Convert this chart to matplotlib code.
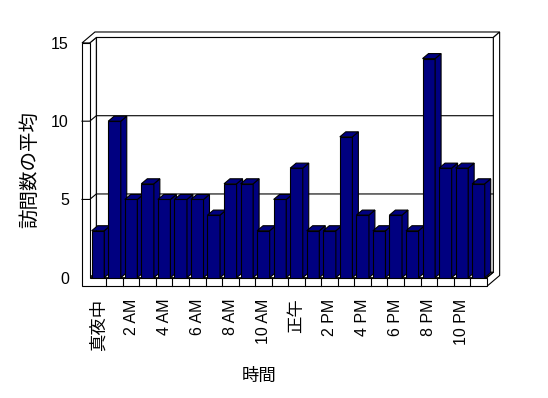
import matplotlib
matplotlib.use("Agg")
import matplotlib.pyplot as plt
from matplotlib.patches import Polygon
import numpy as np

plt.rcParams['font.family'] = ['Liberation Sans', 'Noto Sans CJK JP']

# promedio de visitas por hora (0..23)
visitas = [3, 10, 5, 6, 5, 5, 5, 4, 6, 6, 3, 5, 7, 3, 3, 9, 4, 3, 4, 3, 14, 7, 7, 6]
etiquetas = ['真夜中', '2 AM', '4 AM', '6 AM', '8 AM', '10 AM',
             '正午', '2 PM', '4 PM', '6 PM', '8 PM', '10 PM']
ticks_y = [0, 5, 10, 15]

AZUL = '#000080'
LW = 0.8

fig = plt.figure(figsize=(5.48, 3.98), dpi=100)
ax = fig.add_axes([0.1637, 0.3023, 0.7245, 0.5898])
ax.set_xlim(0, 24)
ax.set_ylim(0, 15)
for s in ax.spines.values():
    s.set_visible(False)
ax.patch.set_visible(False)

n = len(visitas)
ymax = ticks_y[-1]
# desplazamientos de profundidad (en unidades de datos)
wx, wy = 0.40, 0.35    # cara frontal de la pared del fondo
bx, by = 0.78, 0.70    # borde exterior del fondo
pared = -0.465         # grosor pared izquierda
piso = -0.56           # grosor del piso


def poli(pts, z=1, fc='white'):
    p = Polygon(pts, closed=True, facecolor=fc, edgecolor='black',
                linewidth=LW, zorder=z, clip_on=False)
    ax.add_patch(p)


# pared del fondo
poli([(wx, wy), (n + wx, wy), (n + wx, ymax + wy), (wx, ymax + wy)])
# pared izquierda (cara interior)
poli([(0, 0), (0, ymax), (wx, ymax + wy), (wx, wy)])
# piso (cara superior)
poli([(0, 0), (n, 0), (n + wx, wy), (wx, wy)])
# borde superior
poli([(pared, ymax), (0, ymax), (wx, ymax + wy), (n + wx, ymax + wy),
      (n + bx, ymax + by), (pared + bx, ymax + by)])
# lado derecho
poli([(n, piso), (n, 0), (n + wx, wy), (n + wx, ymax + wy),
      (n + bx, ymax + by), (n + bx, piso + by)])
ax.plot([n, n + wx], [0, wy], color='black', lw=LW, zorder=1.5, clip_on=False)
# frente de pared izquierda + piso
poli([(pared, piso), (n, piso), (n, 0), (0, 0), (0, ymax), (pared, ymax)])

# lineas de grilla
for v in ticks_y[1:-1]:
    ax.plot([pared, 0, wx, n + wx], [v, v, v + wy, v + wy],
            color='black', lw=LW, zorder=1.5, clip_on=False)
# marcas del piso
for i in range(1, n):
    ax.plot([i, i], [piso, 0], color='black', lw=LW, zorder=1.5, clip_on=False)

# barras
x = np.arange(n) + 0.5
ancho = 0.76
bdx, bdy = 0.36, 0.32
barras = ax.bar(x, visitas, width=ancho, color=AZUL, edgecolor='black', linewidth=LW)
for i, (r, h) in enumerate(zip(barras, visitas)):
    z = 2 + i
    r.set_zorder(z)
    x0 = x[i] - ancho / 2
    x1 = x[i] + ancho / 2
    poli([(x1, 0), (x1, h), (x1 + bdx, h + bdy), (x1 + bdx, bdy)], z, AZUL)
    poli([(x0, h), (x1, h), (x1 + bdx, h + bdy), (x0 + bdx, h + bdy)], z, AZUL)

ax.set_xticks(np.arange(0, n, 2) + 0.5)
ax.set_xticklabels(etiquetas, rotation=90, fontsize=11.5)
for t in ax.get_xticklabels():
    if t.get_text() in ('真夜中', '正午'):
        t.set_fontsize(12.5)
ax.set_yticks(ticks_y)
ax.set_yticklabels([str(t) for t in ticks_y], fontsize=11.5)
ax.tick_params(axis='x', length=0, pad=15)
ax.tick_params(axis='y', length=0, pad=15)

fig.text(30 / 548, 1 - 170 / 398, '訪問数の平均', rotation=90, fontsize=14,
         ha='center', va='center')
fig.text(259 / 548, 1 - 376 / 398, '時間', fontsize=12.5, ha='center', va='center')

fig.savefig('out.png', dpi=100, facecolor='white')
